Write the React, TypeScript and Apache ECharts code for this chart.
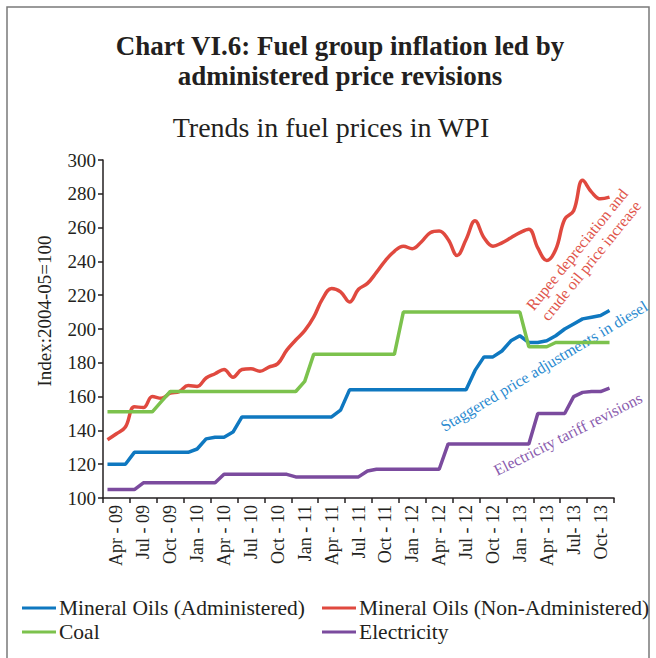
import React, { useEffect, useRef } from 'react';
import * as echarts from 'echarts';

const months = [
  'Apr-09', 'May-09', 'Jun-09', 'Jul-09', 'Aug-09', 'Sep-09', 'Oct-09', 'Nov-09', 'Dec-09',
  'Jan-10', 'Feb-10', 'Mar-10', 'Apr-10', 'May-10', 'Jun-10', 'Jul-10', 'Aug-10', 'Sep-10', 'Oct-10', 'Nov-10', 'Dec-10',
  'Jan-11', 'Feb-11', 'Mar-11', 'Apr-11', 'May-11', 'Jun-11', 'Jul-11', 'Aug-11', 'Sep-11', 'Oct-11', 'Nov-11', 'Dec-11',
  'Jan-12', 'Feb-12', 'Mar-12', 'Apr-12', 'May-12', 'Jun-12', 'Jul-12', 'Aug-12', 'Sep-12', 'Oct-12', 'Nov-12', 'Dec-12',
  'Jan-13', 'Feb-13', 'Mar-13', 'Apr-13', 'May-13', 'Jun-13', 'Jul-13', 'Aug-13', 'Sep-13', 'Oct-13', 'Nov-13', 'Dec-13',
];

const tickLabels = [
  'Apr - 09', 'Jul - 09', 'Oct - 09', 'Jan - 10', 'Apr - 10', 'Jul - 10', 'Oct - 10',
  'Jan - 11', 'Apr - 11', 'Jul - 11', 'Oct - 11', 'Jan - 12', 'Apr - 12', 'Jul - 12',
  'Oct - 12', 'Jan - 13', 'Apr - 13', 'Jul- 13', 'Oct- 13',
];

const mineralAdministered = [
  120, 120, 120, 127, 127, 127, 127, 127, 127,
  127, 129, 135, 136, 136, 139, 148, 148, 148, 148, 148, 148,
  148, 148, 148, 148, 148, 152, 164, 164, 164, 164, 164, 164,
  164, 164, 164, 164, 164, 164, 164, 164, 175.5, 183.5, 183.5, 187,
  193, 196, 192, 192, 193, 196, 200, 203, 206, 207, 208, 211,
];

const mineralNonAdministered = [
  134.5, 138, 142, 154, 153.5, 160, 159, 162, 163,
  166.5, 166, 171, 173.5, 176, 171.5, 176, 176.5, 175, 177.5, 179.5, 187.5,
  193.5, 199, 207, 218, 224, 222, 216, 223.5, 227, 233.5, 240.5, 246,
  249, 247.5, 251.5, 257, 258, 253, 243.5, 253, 264, 254, 249, 251,
  254, 257, 259, 248, 240.5, 247, 265, 270, 288, 281, 277, 278,
];

const coal = [
  151, 151, 151, 151, 151, 151, 157, 163, 163,
  163, 163, 163, 163, 163, 163, 163, 163, 163, 163, 163, 163,
  163, 169, 185, 185, 185, 185, 185, 185, 185, 185, 185, 185,
  210, 210, 210, 210, 210, 210, 210, 210, 210, 210, 210, 210,
  210, 210, 189.5, 189.5, 189.5, 192, 192, 192, 192, 192, 192, 192,
];

const electricity = [
  105, 105, 105, 105, 109, 109, 109, 109, 109,
  109, 109, 109, 109, 114, 114, 114, 114, 114, 114, 114, 114,
  112.5, 112.5, 112.5, 112.5, 112.5, 112.5, 112.5, 112.5, 116, 117, 117, 117,
  117, 117, 117, 117, 117, 132, 132, 132, 132, 132, 132, 132,
  132, 132, 132, 150, 150, 150, 150, 160, 162.5, 163, 163, 165,
];

const seriesNames = [
  'Mineral Oils (Administered)',
  'Mineral Oils (Non-Administered)',
  'Coal',
  'Electricity',
];

const BLUE = '#0f78c0';
const RED = '#e0493f';
const GREEN = '#7cc24d';
const PURPLE = '#7b4b9e';
const INK = '#231f20';
const FONT = '"Liberation Serif", "DejaVu Serif", serif';

export default function App() {
  const ref = useRef<HTMLDivElement>(null);

  useEffect(() => {
    if (!ref.current) return;
    const chart = echarts.init(ref.current, null, { renderer: 'svg' });
    const lineSeries = (name: string, data: number[], color: string, smooth: number | boolean) => ({
      name,
      type: 'line',
      data,
      xAxisIndex: 0,
      yAxisIndex: 0,
      smooth,
      symbol: 'none',
      showSymbol: false,
      lineStyle: { color, width: 3.5 },
      itemStyle: { color },
    });
    const legendBase = {
      orient: 'vertical',
      top: 597,
      itemGap: 2,
      itemWidth: 34,
      itemHeight: 3,
      icon: 'rect',
      padding: 0,
      textStyle: { fontFamily: FONT, fontSize: 21.5, lineHeight: 19, color: INK, padding: [0, 0, 0, -2] },
    };
    chart.setOption({
      animation: false,
      backgroundColor: '#ffffff',
      textStyle: { fontFamily: FONT, color: INK },
      grid: { left: 103, right: 42, top: 160, bottom: 160, containLabel: false },
      legend: [
        { ...legendBase, data: [seriesNames[0], seriesNames[2]], left: 22 },
        { ...legendBase, data: [seriesNames[1], seriesNames[3]], left: 322 },
      ],
      xAxis: [
        {
          type: 'category',
          data: months,
          boundaryGap: true,
          position: 'bottom',
          axisLine: { show: true, onZero: false, lineStyle: { color: INK, width: 1.5 } },
          axisTick: { show: false },
          axisLabel: { show: false },
          splitLine: { show: false },
        },
        {
          type: 'category',
          data: tickLabels,
          boundaryGap: true,
          position: 'bottom',
          axisLine: { show: false, onZero: false },
          axisTick: { show: true, length: 5, lineStyle: { color: INK, width: 1.5 } },
          axisLabel: { interval: 0, rotate: 90, fontSize: 18, color: INK, fontFamily: FONT, margin: 7 },
          splitLine: { show: false },
        },
      ],
      yAxis: {
        type: 'value',
        min: 100,
        max: 300,
        interval: 20,
        axisLine: { show: true, lineStyle: { color: INK, width: 1.5 } },
        axisTick: { show: true, length: 5, lineStyle: { color: INK, width: 1.5 } },
        axisLabel: { fontSize: 19, color: INK, fontFamily: FONT, margin: 7 },
        splitLine: { show: false },
      },
      series: [
        lineSeries(seriesNames[0], mineralAdministered, BLUE, false),
        lineSeries(seriesNames[1], mineralNonAdministered, RED, 0.4),
        lineSeries(seriesNames[2], coal, GREEN, false),
        lineSeries(seriesNames[3], electricity, PURPLE, false),
      ],
      graphic: [
        {
          type: 'rect',
          shape: { x: 7, y: 7, width: 642, height: 665 },
          style: { fill: 'none', stroke: '#7a7a7a', lineWidth: 1.5 },
          silent: true,
        },
        {
          type: 'text',
          x: 340,
          y: 46,
          style: {
            text: 'Chart VI.6: Fuel group inflation led by',
            font: `bold 27px ${FONT}`,
            fill: INK,
            align: 'center',
            verticalAlign: 'middle',
          },
        },
        {
          type: 'text',
          x: 340,
          y: 76,
          style: {
            text: 'administered price revisions',
            font: `bold 27px ${FONT}`,
            fill: INK,
            align: 'center',
            verticalAlign: 'middle',
          },
        },
        {
          type: 'text',
          x: 331,
          y: 127,
          style: {
            text: 'Trends in fuel prices in WPI',
            font: `28px ${FONT}`,
            fill: INK,
            align: 'center',
            verticalAlign: 'middle',
          },
        },
        {
          type: 'text',
          x: 44,
          y: 311,
          rotation: Math.PI / 2,
          style: {
            text: 'Index:2004-05=100',
            font: `19px ${FONT}`,
            fill: INK,
            align: 'center',
            verticalAlign: 'middle',
          },
        },
        {
          type: 'text',
          x: 584,
          y: 255,
          rotation: 0.89,
          style: {
            text: 'Rupee depreciation and\ncrude oil price increase',
            font: `16px ${FONT}`,
            lineHeight: 18,
            fill: '#e0554b',
            align: 'center',
            verticalAlign: 'middle',
          },
        },
        {
          type: 'text',
          x: 544,
          y: 366,
          rotation: 0.54,
          style: {
            text: 'Staggered price adjustments in diesel',
            font: `16px ${FONT}`,
            fill: '#2a8ad0',
            align: 'center',
            verticalAlign: 'middle',
          },
        },
        {
          type: 'text',
          x: 568,
          y: 434,
          rotation: 0.47,
          style: {
            text: 'Electricity tariff revisions',
            font: `16px ${FONT}`,
            fill: '#8a5cae',
            align: 'center',
            verticalAlign: 'middle',
          },
        },
      ],
    });
    return () => chart.dispose();
  }, []);

  return (
    <div
      ref={ref}
      style={{ position: 'fixed', left: 0, top: 0, width: 656, height: 658, background: '#fff' }}
    />
  );
}
